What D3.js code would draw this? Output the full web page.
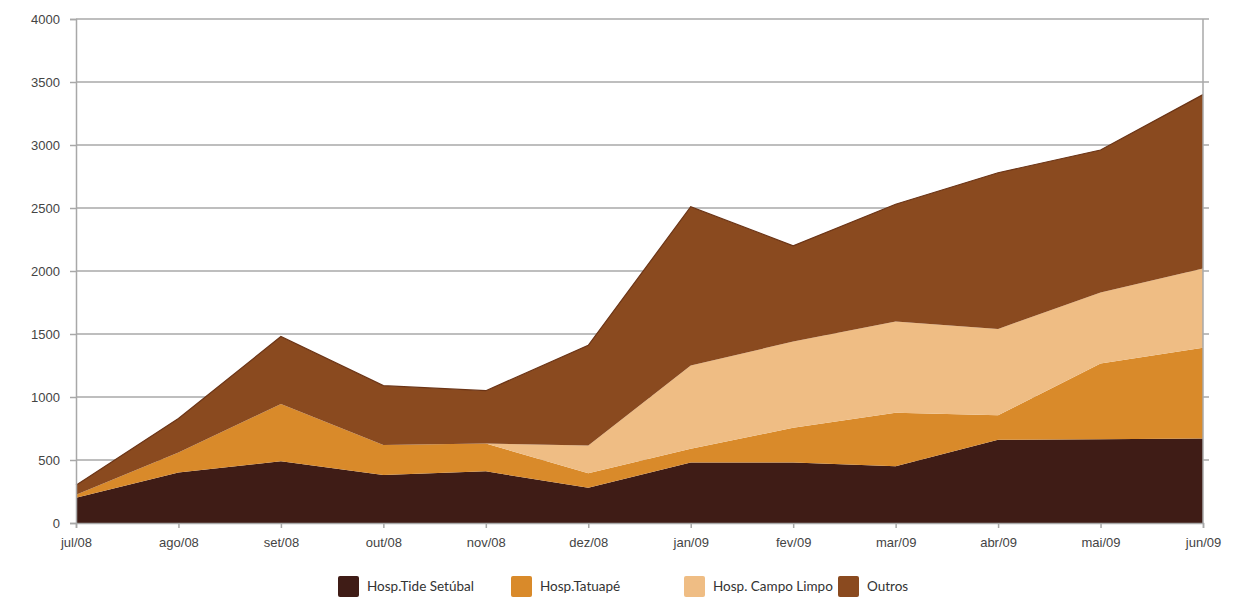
<!DOCTYPE html>
<html>
<head>
<meta charset="utf-8">
<script src="https://cdn.jsdelivr.net/npm/d3@7.9.0/dist/d3.min.js"></script>
<style>
  body { margin: 0; background: #fff; }
  svg { display: block; font-family: Lato, "Open Sans", sans-serif; }
  .tick text { fill: #444; }
</style>
</head>
<body>
<div id="chart"></div>
<script>
// ---------------- dados ----------------
const months = ["jul/08","ago/08","set/08","out/08","nov/08","dez/08","jan/09","fev/09","mar/09","abr/09","mai/09","jun/09"];
const seriesNames = ["Hosp.Tide Setúbal","Hosp.Tatuapé","Hosp. Campo Limpo","Outros"];
const tideSetubal = [200, 400, 490, 380, 410, 280, 480, 480, 450, 660, 665, 670];
const tatuape     = [25, 160, 455, 240, 220, 115, 110, 275, 425, 195, 600, 720];
const campoLimpo  = [0, 0, 0, 0, 0, 220, 660, 685, 725, 685, 565, 630];
const outros      = [75, 270, 535, 470, 420, 795, 1260, 760, 930, 1240, 1130, 1380];
const yTicks = [0, 500, 1000, 1500, 2000, 2500, 3000, 3500, 4000];
const colors = ["#3f1c16", "#d98a2a", "#efbd84", "#8a4a1f"];

const table = months.map((m, i) => ({
  month: m,
  [seriesNames[0]]: tideSetubal[i],
  [seriesNames[1]]: tatuape[i],
  [seriesNames[2]]: campoLimpo[i],
  [seriesNames[3]]: outros[i]
}));

// ---------------- layout ----------------
const width = 1247, height = 601;
const margin = {top: 19, right: 44, bottom: 78, left: 76};
const w = width - margin.left - margin.right;
const h = height - margin.top - margin.bottom;

const svg = d3.select("#chart").append("svg").attr("width", width).attr("height", height);
const g = svg.append("g").attr("transform", `translate(${margin.left},${margin.top})`);

const x = d3.scalePoint().domain(months).range([0, w]);
const y = d3.scaleLinear().domain([0, 4000]).range([h, 0]);

// grid
g.append("g").selectAll("line").data(yTicks.filter(t => t > 0)).enter().append("line")
  .attr("x1", 0).attr("x2", w + 6)
  .attr("y1", d => y(d)).attr("y2", d => y(d))
  .attr("stroke", "#a8a8a8").attr("stroke-width", 1.5);

// stacked areas
const stack = d3.stack().keys(seriesNames);
const layers = stack(table);
const area = d3.area()
  .x(d => x(d.data.month))
  .y0(d => y(d[0]))
  .y1(d => y(d[1]));

g.append("g").selectAll("path").data(layers).enter().append("path")
  .attr("d", area)
  .attr("fill", (d, i) => colors[i]);

// top outline of the total
const line = d3.line().x(d => x(d.data.month)).y(d => y(d[1]));
g.append("path").datum(layers[3]).attr("d", line)
  .attr("fill", "none").attr("stroke", "#6b3416").attr("stroke-width", 1.2);

// right border
g.append("line").attr("x1", w).attr("x2", w).attr("y1", 0).attr("y2", h)
  .attr("stroke", "#a8a8a8").attr("stroke-width", 1.5);

// axes
const yAxis = g.append("g")
  .call(d3.axisLeft(y).tickValues(yTicks).tickFormat(d3.format("d")).tickSize(6).tickPadding(10));
yAxis.select(".domain").attr("stroke", "#a8a8a8").attr("stroke-width", 1.5);
yAxis.selectAll(".tick line").attr("stroke", "#a8a8a8").attr("stroke-width", 1.5);
yAxis.selectAll(".tick text").attr("font-size", "13px");

const xAxis = g.append("g").attr("transform", `translate(0,${h})`)
  .call(d3.axisBottom(x).tickSize(5).tickPadding(10));
xAxis.select(".domain").attr("stroke", "#a8a8a8").attr("stroke-width", 1.5);
xAxis.selectAll(".tick line").attr("stroke", "#a8a8a8").attr("stroke-width", 1.5);
xAxis.selectAll(".tick text").attr("font-size", "13px");

// legend
const legendX = [338, 511, 684, 838];
const legend = svg.append("g").attr("transform", "translate(0,576)");
seriesNames.forEach((name, i) => {
  legend.append("rect").attr("x", legendX[i]).attr("y", 0).attr("width", 21).attr("height", 21)
    .attr("rx", 2).attr("fill", colors[i]);
  legend.append("text").attr("x", legendX[i] + 29).attr("y", 15)
    .attr("font-size", "13.5px").attr("fill", "#333").text(name);
});
</script>
</body>
</html>
